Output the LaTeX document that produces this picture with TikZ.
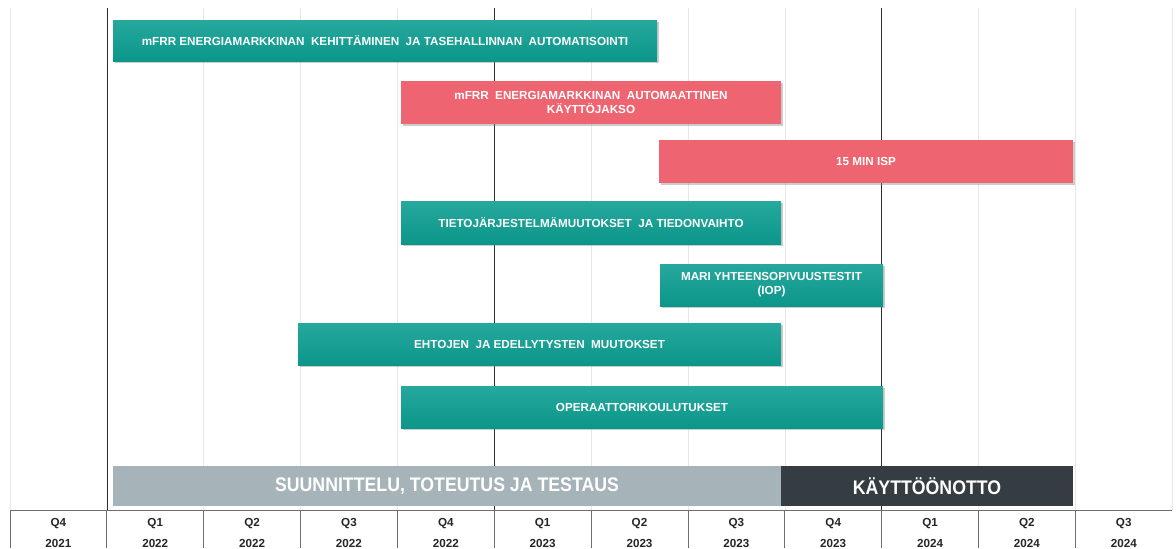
\documentclass[tikz,border=0pt]{standalone}
\usepackage{fontspec}
\setmainfont{Liberation Sans}
\newfontfamily\phasefont{Liberation Sans}[FakeStretch=0.9]
\usetikzlibrary{positioning,shadows}

\definecolor{tealtop}{RGB}{38,168,157}
\definecolor{tealbot}{RGB}{12,150,138}
\definecolor{redbar}{RGB}{238,100,112}
\definecolor{phasegray}{RGB}{166,180,185}
\definecolor{phasedark}{RGB}{54,61,66}
\definecolor{gridlight}{RGB}{232,232,232}
\definecolor{griddark}{RGB}{45,45,45}
\definecolor{headline}{RGB}{110,110,110}

\begin{document}
\begin{tikzpicture}[x=0.025cm,y=-0.025cm,
  span/.style 2 args={minimum width=#1*0.025cm, minimum height=#2*0.025cm},
  taskbox/.style={inner sep=0pt, text=white, align=center,
    font=\bfseries\fontsize{8.3}{10}\selectfont,
    drop shadow={opacity=0.4,shadow xshift=1.2pt,shadow yshift=-1.5pt}},
  tealtask/.style={taskbox, top color=tealtop, bottom color=tealbot},
  redtask/.style={taskbox, fill=redbar},
  phasebox/.style={inner sep=0pt, text=white,
    font=\phasefont\bfseries\fontsize{14}{16}\selectfont},
  quarter/.style={font=\bfseries\fontsize{8.3}{9}\selectfont, text=black!85}]

\useasboundingbox (0,0) rectangle (1176,548);

% grid
\foreach \i in {0,...,12}
    \draw[gridlight] (10+96.85*\i,8) -- (10+96.85*\i,510);
\foreach \i in {1,5,9}
    \draw[griddark] (10+96.85*\i,8) -- (10+96.85*\i,510);

% quarters
\draw[headline, line width=0.6pt] (10,510) -- (1172,510);
\foreach \i in {0,...,11}
    \draw[headline, line width=0.6pt] (10+96.85*\i,510) -- (10+96.85*\i,548);

\foreach \i/\q/\yr in {
  0/Q4/2021,
  1/Q1/2022,
  2/Q2/2022,
  3/Q3/2022,
  4/Q4/2022,
  5/Q1/2023,
  6/Q2/2023,
  7/Q3/2023,
  8/Q4/2023,
  9/Q1/2024,
  10/Q2/2024,
  11/Q3/2024}
{
    \node[quarter] (q\i) at (58.4+96.85*\i,524) {\q};
    \node[quarter] (y\i) at (58.4+96.85*\i,543) {\yr};
}

% tasks
\node[tealtask, span={544}{41}] (kehitys) at (385,40.5)
    {mFRR ENERGIAMARKKINAN\ \ KEHITTÄMINEN\ \ JA TASEHALLINNAN\ \ AUTOMATISOINTI};
\node[redtask, span={380}{43}] (kayttojakso) at (591,102.5)
    {mFRR\ \ ENERGIAMARKKINAN\ \ AUTOMAATTINEN\\KÄYTTÖJAKSO};
\node[redtask, span={414}{43}] (isp) at (866,161.5) {15 MIN ISP};
\node[tealtask, span={380}{43}] (tietojarj) at (591,222.5)
    {TIETOJÄRJESTELMÄMUUTOKSET\ \ JA TIEDONVAIHTO};
\node[tealtask, span={223}{42}] (iop) at (771.5,285)
    {MARI YHTEENSOPIVUUSTESTIT\\(IOP)};
\node[tealtask, span={483}{42}] (ehdot) at (539.5,344)
    {EHTOJEN\ \ JA EDELLYTYSTEN\ \ MUUTOKSET};
\node[tealtask, span={482}{42}] (koulutus) at (642,407) {OPERAATTORIKOULUTUKSET};

% phases
\node[phasebox, fill=phasegray, span={668}{40}] (suunnittelu) at (447,486)
    {SUUNNITTELU, TOTEUTUS JA TESTAUS};
\node[phasebox, fill=phasedark, span={292}{40}] (kaytto) at (927,486)
    {KÄYTTÖÖNOTTO};

\end{tikzpicture}
\end{document}
